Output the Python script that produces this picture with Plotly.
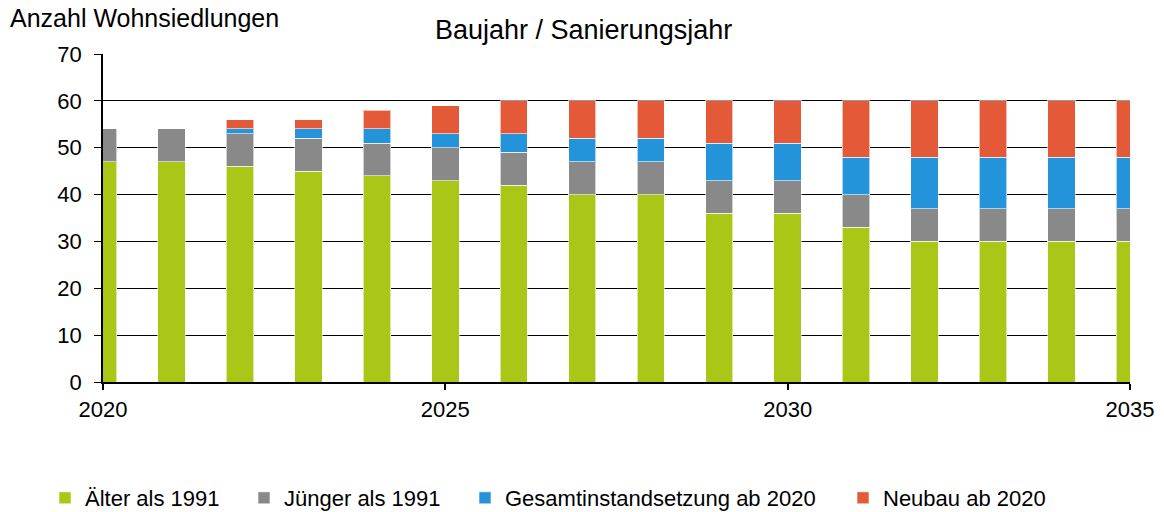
import plotly.graph_objects as go

years = list(range(2020, 2036))
aelter = [47, 47, 46, 45, 44, 43, 42, 40, 40, 36, 36, 33, 30, 30, 30, 30]
juenger = [7, 7, 7, 7, 7, 7, 7, 7, 7, 7, 7, 7, 7, 7, 7, 7]
gesamt = [0, 0, 1, 2, 3, 3, 4, 5, 5, 8, 8, 8, 11, 11, 11, 11]
neubau = [0, 0, 2, 2, 4, 6, 7, 8, 8, 9, 9, 12, 12, 12, 12, 12]

series_names = ["Älter als 1991", "Jünger als 1991", "Gesamtinstandsetzung ab 2020", "Neubau ab 2020"]
series_vals = [aelter, juenger, gesamt, neubau]
series_colors = ["#AAC718", "#898989", "#2394D9", "#E45A38"]

# body margin is removed in the page, so the figure fills the window
W, H = 1164, 512
# plot area in screen pixels
X0, X1, Y0, Y1 = 103, 1130, 54, 382
L, T = X0, Y0
R, B = W - X1, H - Y1
pw, ph = X1 - X0, Y1 - Y0

def px(x):
    return (x - X0) / pw

def py(y):
    return (Y1 - y) / ph

font = "Liberation Sans, Arial, sans-serif"
legend_names = ["legend", "legend2", "legend3", "legend4"]
legend_x = [45, 244, 465, 843]

fig = go.Figure()
for name, vals, col, lg in zip(series_names, series_vals, series_colors, legend_names):
    fig.add_trace(go.Bar(
        x=years, y=vals, name=name, width=0.4, legend=lg,
        marker=dict(color=col, line=dict(color="rgba(255,255,255,0.6)", width=1)),
    ))

layout_legends = {}
for lg, lx in zip(legend_names, legend_x):
    layout_legends[lg] = dict(orientation="h", x=px(lx), xanchor="left", y=py(498), yanchor="middle",
                              font=dict(size=22, family=font), itemwidth=30,
                              bgcolor="rgba(0,0,0,0)")

fig.update_layout(
    barmode="stack",
    width=W, height=H,
    margin=dict(l=L, r=R, t=T, b=B, autoexpand=False),
    paper_bgcolor="white", plot_bgcolor="white",
    font=dict(family=font, size=22, color="black"),
    showlegend=True,
    xaxis=dict(range=[2020, 2035], tickvals=[2020, 2025, 2030, 2035],
               showline=True, linecolor="black", linewidth=1.5,
               ticks="outside", ticklen=6, tickcolor="black", tickwidth=1.5,
               tickfont=dict(size=22), ticklabelstandoff=1,
               showgrid=False, zeroline=False, automargin=False),
    yaxis=dict(range=[0, 70], dtick=10, showline=True, linecolor="black", linewidth=1.5,
               ticks="outside", ticklen=7, tickcolor="black",
               tickfont=dict(size=22), ticklabelstandoff=8,
               showgrid=True, gridcolor="black", gridwidth=1, zeroline=False, automargin=False),
    annotations=[
        dict(text="Anzahl Wohnsiedlungen", x=px(9), y=py(18), xref="paper", yref="paper",
             showarrow=False, font=dict(size=25), xanchor="left", yanchor="middle", borderpad=0),
        dict(text="Baujahr / Sanierungsjahr", x=px(583), y=py(30), xref="paper", yref="paper",
             showarrow=False, font=dict(size=27), xanchor="center", yanchor="middle"),
    ],
    **layout_legends,
)

fig.write_html("out.html", config={"displayModeBar": False},
               post_script="document.body.style.margin='0';document.body.style.overflow='hidden';")
